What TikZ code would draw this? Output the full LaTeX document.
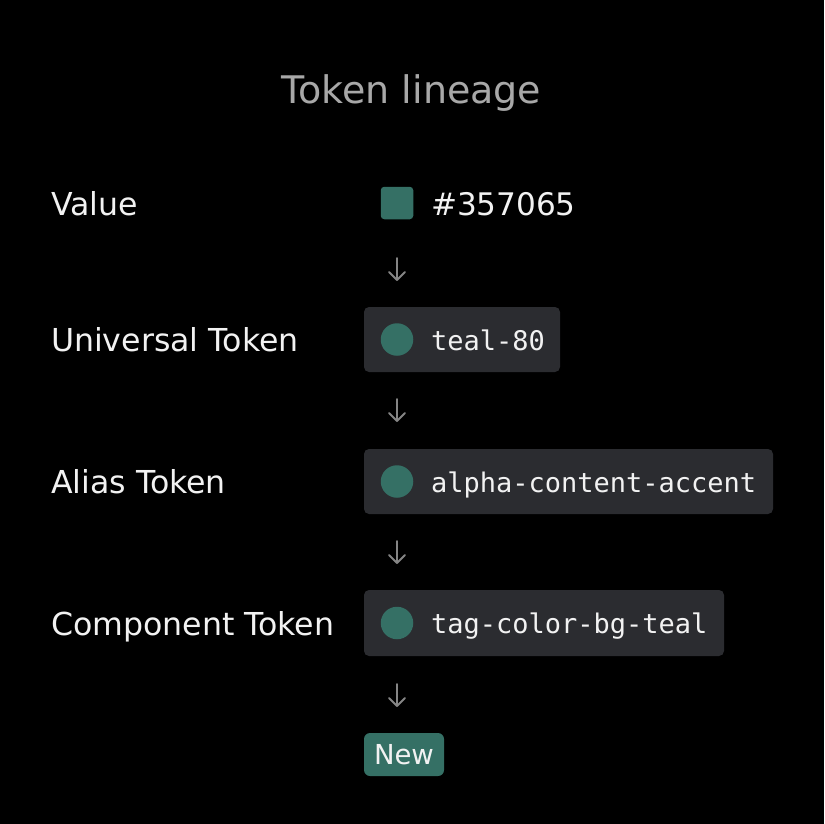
\documentclass[tikz,border=0pt]{standalone}
\usepackage{fontspec}
\setmainfont{DejaVu Sans}
\newfontfamily\monof{DejaVu Sans Mono}
\begin{document}
\begin{tikzpicture}[x=1pt,y=-1pt,
  every node/.style={inner sep=0pt,outer sep=0pt},
  title/.style={text=titlegray,font=\fontsize{38}{45}\selectfont,anchor=base},
  rowlabel/.style={text=textwhite,font=\fontsize{31.6}{37}\selectfont,anchor=base west},
  tokbox/.style={fill=boxgray,rounded corners=5pt,minimum height=65pt},
  swatchdot/.style={circle,fill=teal,minimum size=32.5pt},
  monotext/.style={text=textwhite,font=\monof\fontsize{27}{32}\selectfont,anchor=base west},
  downarrow/.style={draw=arrowgray,line width=1.8pt,line cap=round,line join=round}
]
\definecolor{teal}{HTML}{357065}
\definecolor{boxgray}{HTML}{2B2C30}
\definecolor{titlegray}{HTML}{A8A8A8}
\definecolor{arrowgray}{HTML}{858585}
\definecolor{textwhite}{HTML}{F2F2F2}
\fill[black] (0,0) rectangle (824,824);
\useasboundingbox (0,0) rectangle (824,824);

\node[title] (ttl) at (411.5,103) {Token lineage};

% row labels
\node[rowlabel] (lv) at (51,215.5) {Value};
\node[rowlabel] (lu) at (51,351.5) {Universal Token};
\node[rowlabel] (la) at (51,493.5) {Alias Token};
\node[rowlabel] (lc) at (51,635.5) {Component Token};

% value row
\node[fill=teal,rounded corners=3.5pt,minimum size=32.5pt] (sq) at (397,203) {};
\node[text=textwhite,font=\fontsize{31.1}{37}\selectfont,anchor=base west] (hex) at (431,215.5) {\#357065};

% token boxes
\node[tokbox,minimum width=196pt] (bu) at (462,339.5) {};
\node[swatchdot] (du) at (397,339.5) {};
\node[monotext] (tu) at (431,350) {teal-80};

\node[tokbox,minimum width=409pt] (ba) at (568.5,481.5) {};
\node[swatchdot] (da) at (397,481.5) {};
\node[monotext] (ta) at (431,492) {alpha-content-accent};

\node[tokbox,minimum width=360pt,minimum height=66pt] (bc) at (544,623) {};
\node[swatchdot] (dc) at (397,623) {};
\node[monotext] (tc) at (431,633.5) {tag-color-bg-teal};

% new badge
\node[fill=teal,rounded corners=6pt,minimum width=80pt,minimum height=43pt] (nb) at (404,754.5) {};
\node[text=textwhite,font=\fontsize{27.5}{33}\selectfont] (nt) at (nb.center) {New};

% arrows
\foreach \i/\y in {1/269,2/410,3/552,4/695}{
  \coordinate (s\i) at (397,\y-11);
  \coordinate (e\i) at (397,\y+11);
  \coordinate (l\i) at (389,\y+3);
  \coordinate (r\i) at (405,\y+3);
  \draw[downarrow] (s\i) -- (e\i);
  \draw[downarrow] (l\i) -- (e\i) -- (r\i);
}
\end{tikzpicture}
\end{document}
